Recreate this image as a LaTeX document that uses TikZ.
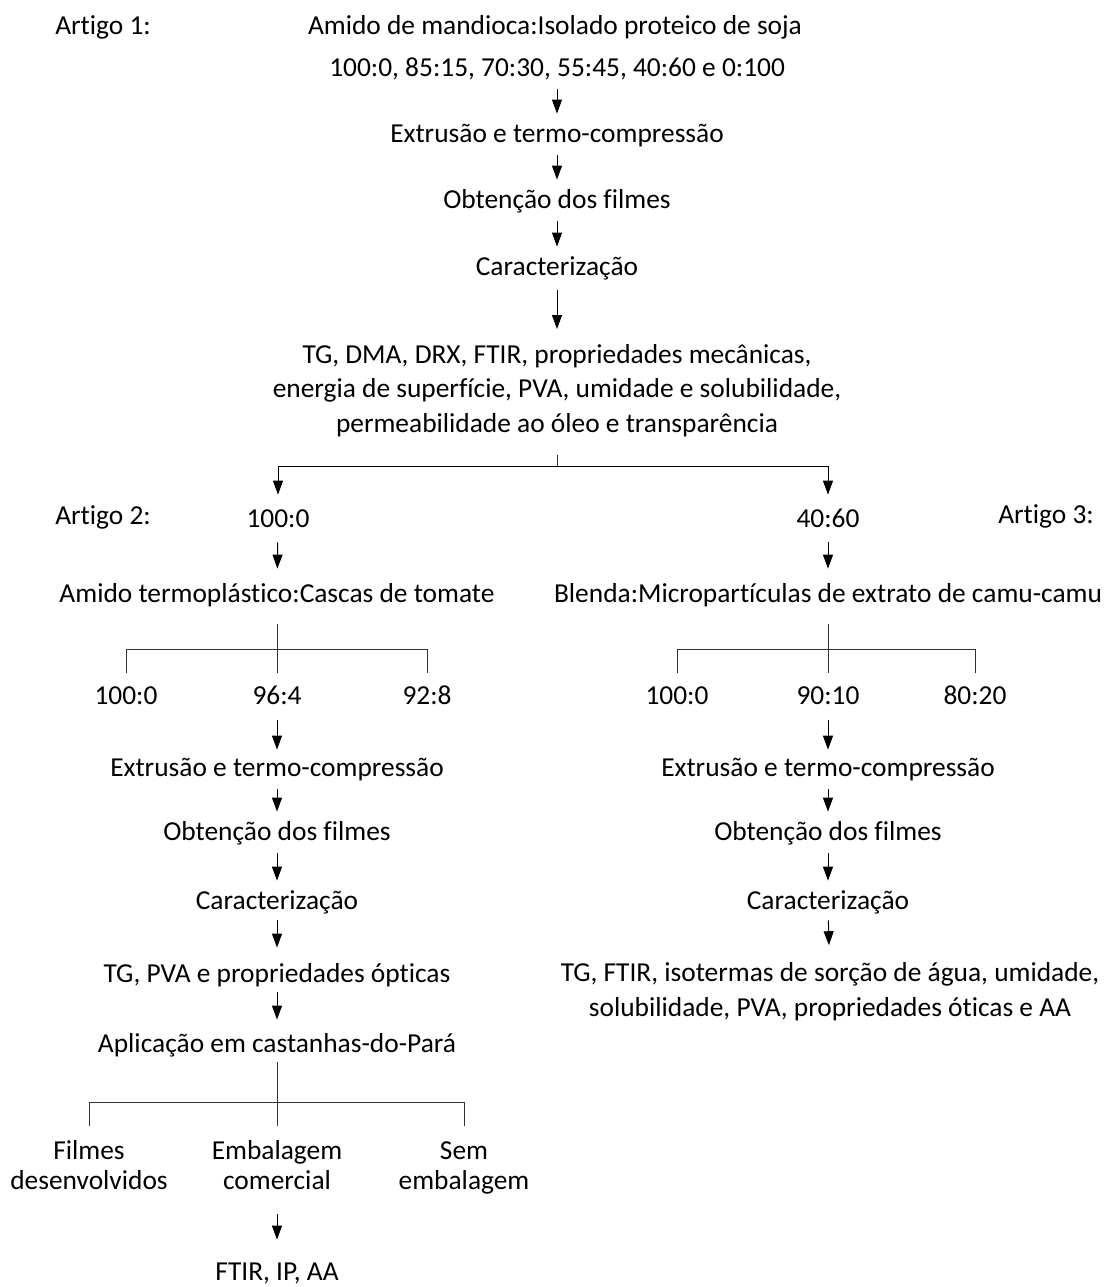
\documentclass[tikz,border=0pt]{standalone}
\usepackage{fontspec}
\setmainfont{Carlito}[Ligatures=NoCommon]
\usetikzlibrary{positioning, arrows.meta}
\tikzset{Step/.style={%
    font=\fontsize{13.7}{17}\selectfont,%
    align=center,%
    inner sep=0pt,%
    text height=10pt,%
    text depth=3pt,%
}}
\tikzset{Block/.style={%
    font=\fontsize{13.7}{17.2}\selectfont,%
    align=center,%
    inner sep=0pt,%
}}
\tikzset{Leaf/.style={%
    Block,%
    font=\fontsize{13.7}{15}\selectfont,%
}}
\tikzset{FlowArrow/.style={%
    -{Triangle[length=7pt, width=5pt]},%
    line width=0.5pt,%
    shorten <=3.5pt,%
    shorten >=4pt,%
}}
\tikzset{BranchLine/.style={%
    line width=0.5pt,%
    draw=black!80,%
}}

\begin{document}
\begin{tikzpicture}[x=0.5pt, y=-0.5pt]
    \useasboundingbox (0,0) rectangle (1110,1287);

    % Artigo 1
    \node[Step] (art1) at (103,27) {Artigo 1:};
    \node[Step] (s0) at (555,27) {Amido de mandioca:Isolado proteico de soja};
    \node[Step] (s1) at (557,69) {100:0, 85:15, 70:30, 55:45, 40:60 e 0:100};
    \node[Step] (s2) at (557,135) {Extrusão e termo-compressão};
    \node[Step] (s3) at (557,201) {Obtenção dos filmes};
    \node[Step] (s4) at (557,268) {Caracterização};
    \node[Block] (s5) at (557,391) {\strut TG, DMA, DRX, FTIR, propriedades mecânicas,\\
        \strut energia de superfície, PVA, umidade e solubilidade,\\
        \strut permeabilidade ao óleo e transparência};
    \coordinate (j1) at (557,466);

    \draw[FlowArrow] (s1) -- (s2);
    \draw[FlowArrow] (s2) -- (s3);
    \draw[FlowArrow] (s3) -- (s4);
    \draw[FlowArrow, shorten <=4.5pt, shorten >=5pt] (s4) -- (s5);
    \draw[BranchLine, shorten <=6pt] (s5) -- (j1);

    % Artigo 2
    \node[Step] (art2) at (103,517) {Artigo 2:};
    \node[Step] (a0) at (278,520) {100:0};
    \node[Step] (a1) at (277,595) {Amido termoplástico:Cascas de tomate};
    \coordinate (ja) at (277,649);
    \node[Step] (a2l) at (126,697) {100:0};
    \node[Step] (a2m) at (277,697) {96:4};
    \node[Step] (a2r) at (427,697) {92:8};
    \node[Step] (a3) at (277,769) {Extrusão e termo-compressão};
    \node[Step] (a4) at (277,833) {Obtenção dos filmes};
    \node[Step] (a5) at (277,902) {Caracterização};
    \node[Step] (a6) at (277,975) {TG, PVA e propriedades ópticas};
    \node[Step] (a7) at (277,1045) {Aplicação em castanhas-do-Pará};
    \coordinate (jb) at (277,1102);
    \node[Leaf] (c1) at (89,1168) {\strut Filmes\\\strut desenvolvidos};
    \node[Leaf] (c2) at (277,1168) {\strut Embalagem\\\strut comercial};
    \node[Leaf] (c3) at (464,1168) {\strut Sem\\\strut embalagem};
    \node[Step] (c4) at (277,1273) {FTIR, IP, AA};

    \draw[FlowArrow, shorten <=0pt, shorten >=6pt] (j1) -| (a0);
    \draw[FlowArrow, shorten <=4.5pt, shorten >=6.5pt] (a0) -- (a1);
    \draw[BranchLine, shorten <=8pt, shorten >=5.5pt] (a1) -- (a2m);
    \draw[BranchLine, shorten <=5.5pt, shorten >=5.5pt] (a2l) |- (ja) -| (a2r);
    \draw[FlowArrow, shorten <=5pt, shorten >=3pt] (a2m) -- (a3);
    \draw[FlowArrow] (a3) -- (a4);
    \draw[FlowArrow] (a4) -- (a5);
    \draw[FlowArrow, shorten <=2.5pt, shorten >=7pt] (a5) -- (a6);
    \draw[FlowArrow, shorten <=2pt, shorten >=6pt] (a6) -- (a7);
    \draw[BranchLine, shorten <=2pt, shorten >=6pt] (a7) -- (c2);
    \draw[BranchLine, shorten <=6pt, shorten >=6pt] (c1) |- (jb) -| (c3);
    \draw[FlowArrow, shorten <=8pt, shorten >=10pt] (c2) -- (c4);

    % Artigo 3
    \node[Step] (art3) at (1046,516) {Artigo 3:};
    \node[Step] (b0) at (828,520) {40:60};
    \node[Step] (b1) at (828,595) {Blenda:Micropartículas de extrato de camu-camu};
    \coordinate (jr) at (828,649);
    \node[Step] (b2l) at (677,697) {100:0};
    \node[Step] (b2m) at (828,697) {90:10};
    \node[Step] (b2r) at (975,697) {80:20};
    \node[Step] (b3) at (828,769) {Extrusão e termo-compressão};
    \node[Step] (b4) at (828,833) {Obtenção dos filmes};
    \node[Step] (b5) at (828,902) {Caracterização};
    \node[Block] (b6) at (830,992) {\strut TG, FTIR, isotermas de sorção de água, umidade,\\
        \strut solubilidade, PVA, propriedades óticas e AA};

    \draw[FlowArrow, shorten <=0pt, shorten >=6pt] (j1) -| (b0);
    \draw[FlowArrow, shorten <=4.5pt, shorten >=6.5pt] (b0) -- (b1);
    \draw[BranchLine, shorten <=8pt, shorten >=5.5pt] (b1) -- (b2m);
    \draw[BranchLine, shorten <=5.5pt, shorten >=5.5pt] (b2l) |- (jr) -| (b2r);
    \draw[FlowArrow, shorten <=5pt, shorten >=3pt] (b2m) -- (b3);
    \draw[FlowArrow] (b3) -- (b4);
    \draw[FlowArrow] (b4) -- (b5);
    \draw[FlowArrow, shorten <=2.5pt, shorten >=6pt] (b5) -- (b6);
\end{tikzpicture}
\end{document}
